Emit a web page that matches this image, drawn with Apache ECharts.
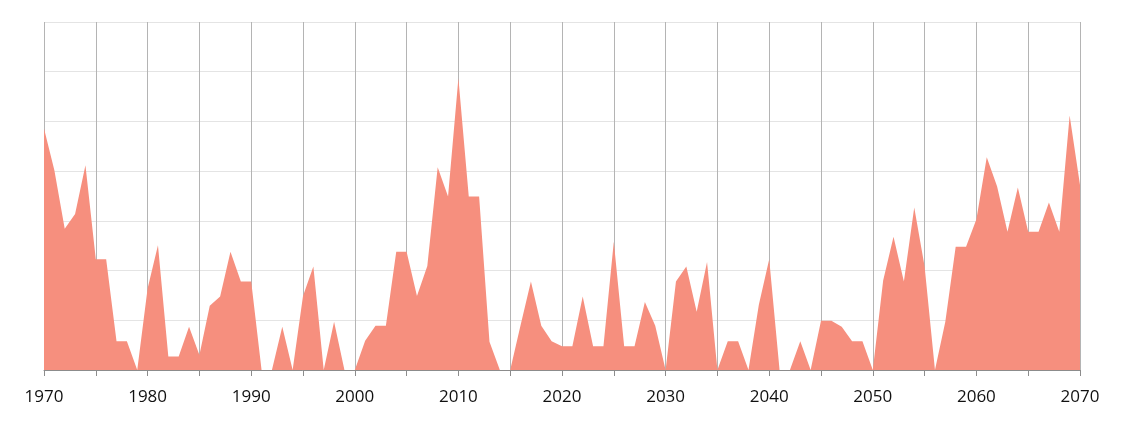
<!DOCTYPE html>
<html>
<head>
<meta charset="utf-8">
<script src="https://cdn.jsdelivr.net/npm/echarts@6/dist/echarts.min.js"></script>
<style>html,body{margin:0;padding:0;background:#fff}#c{width:1124px;height:423px}</style>
</head>
<body>
<div id="c"></div>
<script>
const startYear = 1970;
const values = [
  48.6, 40.2, 28.4, 31.4, 41.2, 22.3, 22.3, 5.8, 5.8, 0,
  16.4, 25.1, 2.7, 2.7, 8.7, 3.0, 12.9, 14.8, 23.8, 17.8,
  17.8, 0, 0, 8.7, 0, 14.9, 20.8, 0, 9.7, 0,
  0, 5.9, 8.9, 8.9, 23.8, 23.8, 14.9, 20.9, 40.8, 34.9,
  58.7, 34.9, 34.9, 5.7, 0, 0, 9.0, 17.8, 8.9, 5.8,
  4.8, 4.8, 14.8, 4.8, 4.8, 25.8, 4.8, 4.8, 13.7, 8.9,
  0, 17.8, 20.8, 11.7, 21.7, 0, 5.8, 5.8, 0, 13.1,
  22.3, 0, 0, 5.8, 0, 9.9, 9.9, 8.7, 5.8, 5.8,
  0, 18.0, 26.8, 17.8, 32.7, 20.8, 0, 9.7, 24.8, 24.8,
  30.3, 42.8, 36.9, 27.8, 36.7, 27.8, 27.8, 33.7, 27.8, 51.2,
  37.2
];
const years = values.map((_, i) => startYear + i);
const labelYears = [1970, 1980, 1990, 2000, 2010, 2020, 2030, 2040, 2050, 2060, 2070];

const chart = echarts.init(document.getElementById('c'), null, {renderer: 'canvas'});
chart.setOption({
  animation: false,
  backgroundColor: '#ffffff',
  grid: {left: 44, right: 44, top: 22, bottom: 53},
  xAxis: {
    type: 'value', min: 1970, max: 2070, interval: 5,
    axisLine: {show: true, lineStyle: {color: '#8c8c8c', width: 1}},
    axisTick: {show: true, length: 6, lineStyle: {color: '#8c8c8c'}},
    axisLabel: {
      show: true, margin: 19, color: '#111', fontSize: 17,
      fontFamily: '"Open Sans", "Noto Sans", sans-serif',
      formatter: v => labelYears.includes(v) ? String(v) : ''
    },
    splitLine: {show: true, lineStyle: {color: '#b4b4b4', width: 1}}
  },
  yAxis: {
    type: 'value', min: 0, max: 70, interval: 10,
    axisLine: {show: false}, axisTick: {show: false}, axisLabel: {show: false},
    splitLine: {show: true, lineStyle: {color: '#e4e4e4', width: 1}}
  },
  series: [{
    type: 'line',
    data: years.map((y, i) => [y, values[i]]),
    showSymbol: false,
    lineStyle: {width: 0},
    areaStyle: {color: '#F68F7E', opacity: 1},
    itemStyle: {color: '#F68F7E'}
  }]
});
</script>
</body>
</html>
